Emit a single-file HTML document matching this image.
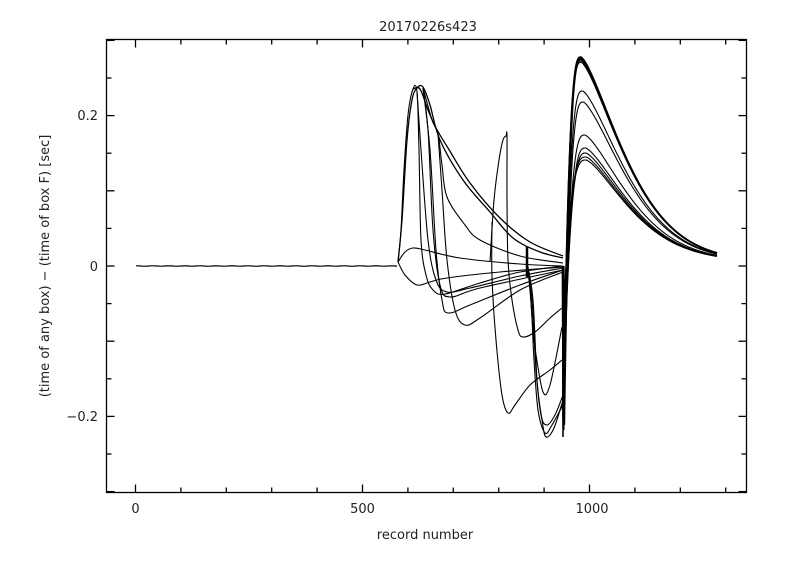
<!DOCTYPE html>
<html><head><meta charset="utf-8"><style>
body{margin:0;background:#fff;}
svg text{font-family:"DejaVu Sans","Liberation Sans",sans-serif;font-size:13px;fill:#222;}
</style></head><body>
<svg id="s" width="800" height="560" viewBox="0 0 800 560" xmlns="http://www.w3.org/2000/svg">
<rect x="0" y="0" width="800" height="560" fill="#fff"/>
<rect x="106.5" y="39.5" width="640" height="453" fill="none" stroke="#000" stroke-width="1.3"/>
<g id="ticks" stroke="#000" stroke-width="1.3"></g>
<g id="curves" fill="none" stroke="#000" stroke-width="1.1"></g>
<text x="428" y="31" text-anchor="middle">20170226s423</text>
<text x="135.5" y="513" text-anchor="middle">0</text>
<text x="362.5" y="513" text-anchor="middle">500</text>
<text x="592" y="513" text-anchor="middle">1000</text>
<text x="425" y="539" text-anchor="middle">record number</text>
<text x="98" y="120" text-anchor="end">0.2</text>
<text x="98" y="271" text-anchor="end">0</text>
<text x="98" y="421" text-anchor="end">−0.2</text>
<text transform="translate(49,266) rotate(-90)" text-anchor="middle">(time of any box) − (time of box F) [sec]</text>
</svg>
<script>
var NS="http://www.w3.org/2000/svg";
var tk=document.getElementById('ticks'),cv=document.getElementById('curves');
function ln(x1,y1,x2,y2,p){var l=document.createElementNS(NS,'line');l.setAttribute('x1',x1);l.setAttribute('y1',y1);l.setAttribute('x2',x2);l.setAttribute('y2',y2);p.appendChild(l);}
function X(r){return 135.5+r*0.454;}
function Y(v){return 266-v*752;}
for(var r=0;r<=1300;r+=100){var x=X(r),L=(r%500==0)?8:5;ln(x,492.5,x,492.5-L,tk);ln(x,39.5,x,39.5+L,tk);}
for(var k=-6;k<=6;k++){var y=Y(k*0.05),L=(k%2==0)?8:5;if(y<40||y>492)continue;ln(106.5,y,106.5+L,y,tk);ln(746.5,y,746.5-L,y,tk);}
function path(pts,w){var d="M"+pts[0][0]+","+pts[0][1];
for(var i=0;i<pts.length-1;i++){var p0=pts[i>0?i-1:i],p1=pts[i],p2=pts[i+1],p3=pts[i+2<pts.length?i+2:i+1];
d+=" C"+(p1[0]+(p2[0]-p0[0])/6).toFixed(1)+","+(p1[1]+(p2[1]-p0[1])/6).toFixed(1)+" "+(p2[0]-(p3[0]-p1[0])/6).toFixed(1)+","+(p2[1]-(p3[1]-p1[1])/6).toFixed(1)+" "+p2[0]+","+p2[1];}
var e=document.createElementNS(NS,'path');e.setAttribute('d',d);if(w)e.setAttribute('stroke-width',w);cv.appendChild(e);}
function poly(pts,w){var e=document.createElementNS(NS,'polyline');e.setAttribute('points',pts.map(function(p){return p[0].toFixed(1)+","+p[1].toFixed(1)}).join(" "));if(w)e.setAttribute('stroke-width',w);cv.appendChild(e);}
var b=[];for(var x=136;x<=398;x+=3){b.push([x,266+(Math.sin(x*1.7)*0.25)]);}poly(b,1.2);
path([[398,262],[401,230],[404,170],[408,115],[413,89],[417,92],[419,150],[421,240],[426,275],[433,290],[445,294],[480,283],[520,272],[563,266]]);
path([[398,262],[402,220],[407,140],[412,100],[417,88],[423,87],[430,105],[440,140],[463,180],[490,212],[513,238],[540,252],[563,258]],1.3);
path([[413,89],[420,89],[428,110],[436,128],[448,148],[470,183],[500,218],[530,242],[563,256]],1.3);
path([[423,88],[432,120],[438,134],[442,165],[447,197],[465,225],[480,240],[520,256],[563,263]]);
path([[398,262],[405,275],[417,285],[430,282],[447,278],[500,272],[563,267]]);
path([[398,262],[405,252],[413,248],[425,250],[460,258],[520,264],[563,266]]);
path([[417,92],[421,150],[428,240],[436,280],[447,292],[470,288],[520,276],[563,268]]);
path([[423,88],[428,130],[433,230],[440,285],[450,297],[480,288],[563,270]]);
path([[423,88],[430,150],[436,250],[442,300],[448,313],[470,305],[520,285],[563,270]]);
path([[438,134],[442,190],[447,260],[455,310],[465,325],[480,318],[520,290],[563,272]]);
path([[490,262],[494,200],[499,160],[503,140],[506,136],[507,137],[507,200],[508,260],[512,300],[518,330],[523,337],[535,332],[550,318],[562,308]]);
path([[492,222],[492,277],[496,340],[502,395],[508,413],[515,405],[530,385],[550,370],[562,360]]);
path([[527,247],[527,277]],2.5);
path([[527,262],[530,290],[533,330],[536,355],[543,392],[550,385],[562,327]]);
path([[527,262],[531,300],[534,360],[538,410],[545,433],[552,425],[563,405]]);
path([[527,262],[532,300],[536,370],[541,415],[547,425],[555,415],[563,395]]);
path([[527,262],[533,300],[537,380],[542,420],[546,437],[554,428],[563,400]]);
var peaks=[57,58.5,60,62,91,102,135,148,153,157,160],mins=[437,430,425,420,405,395,415,392,360,327,308];
for(var i=0;i<peaks.length;i++){var P=(266-peaks[i])/752,vmin=(266-mins[i])/752,xp=581+(peaks[i]-57)*0.05,pts=[];
var x0=563+(i%3)*0.7;
pts.push([x0-0.5,266]);
for(var x=x0;x<=xp;x+=0.3){var s=(x-x0)/(xp-x0),v=vmin+(P-vmin)*(1-Math.pow(1-s,3));pts.push([x,Y(v)]);}
for(var x=Math.ceil(xp);x<=717;x+=1){var t=(x-xp),v=0.006+(P-0.006)*Math.exp(-0.693*Math.pow(t/46,1.4));pts.push([x,Y(v)]);}
poly(pts,i<4?1.5:1.1);}
</script>
</body></html>
